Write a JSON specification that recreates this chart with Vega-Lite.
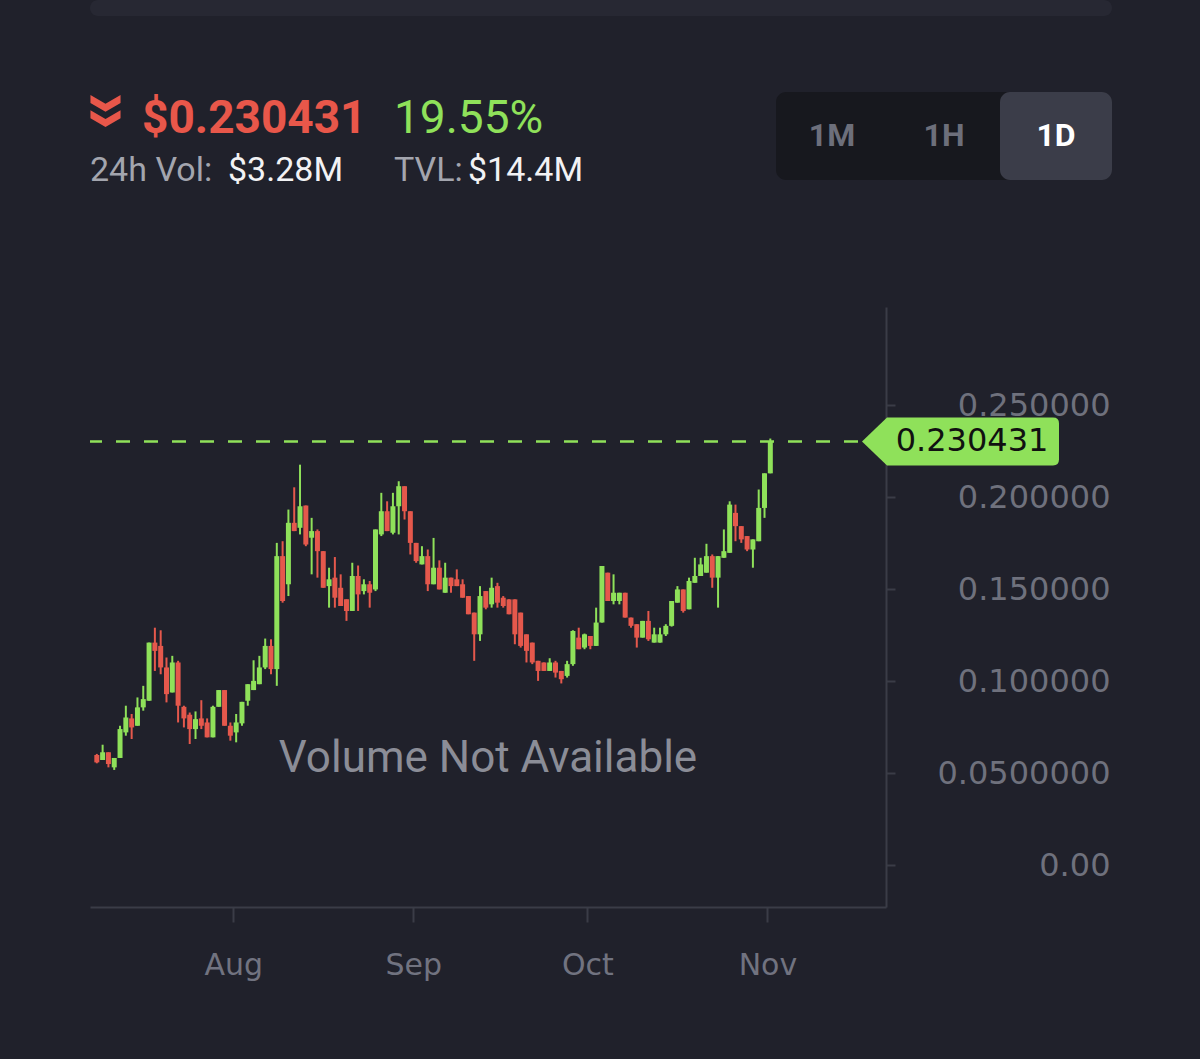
{
  "$schema": "https://vega.github.io/schema/vega-lite/v6.json",
  "background": "#20212b",
  "padding": {"left": 88, "top": 0, "right": 90, "bottom": 84},
  "config": {
    "view": {"stroke": null},
    "font": "DejaVu Sans",
    "title": {"orient": "bottom", "anchor": "start", "offset": 0, "fontSize": 46, "font": "Roboto", "subtitleFont": "Roboto", "subtitleFontSize": 34, "subtitlePadding": 11, "subtitleColor": "#a3a5ae"}
  },
  "datasets": {
    "candles": [
      {"date":"2024-07-08T12:00:00Z","open":0.0600,"close":0.0560,"high":0.0606,"low":0.0555},
      {"date":"2024-07-09T12:00:00Z","open":0.0573,"close":0.0615,"high":0.0656,"low":0.0573},
      {"date":"2024-07-10T12:00:00Z","open":0.0615,"close":0.0551,"high":0.0615,"low":0.0533},
      {"date":"2024-07-11T12:00:00Z","open":0.0533,"close":0.0584,"high":0.0584,"low":0.0519},
      {"date":"2024-07-12T12:00:00Z","open":0.0584,"close":0.0741,"high":0.0759,"low":0.0584},
      {"date":"2024-07-13T12:00:00Z","open":0.0723,"close":0.0804,"high":0.0868,"low":0.0705},
      {"date":"2024-07-14T12:00:00Z","open":0.0799,"close":0.0750,"high":0.0823,"low":0.0687},
      {"date":"2024-07-15T12:00:00Z","open":0.0759,"close":0.0859,"high":0.0913,"low":0.0759},
      {"date":"2024-07-16T12:00:00Z","open":0.0859,"close":0.0904,"high":0.0976,"low":0.0841},
      {"date":"2024-07-17T12:00:00Z","open":0.0895,"close":0.1211,"high":0.1211,"low":0.0895},
      {"date":"2024-07-18T12:00:00Z","open":0.1211,"close":0.1166,"high":0.1292,"low":0.1057},
      {"date":"2024-07-19T12:00:00Z","open":0.1193,"close":0.1076,"high":0.1278,"low":0.1039},
      {"date":"2024-07-20T12:00:00Z","open":0.1076,"close":0.0931,"high":0.1130,"low":0.0886},
      {"date":"2024-07-21T12:00:00Z","open":0.0940,"close":0.1103,"high":0.1139,"low":0.0940},
      {"date":"2024-07-22T12:00:00Z","open":0.1103,"close":0.0868,"high":0.1112,"low":0.0777},
      {"date":"2024-07-23T12:00:00Z","open":0.0862,"close":0.0799,"high":0.0868,"low":0.0750},
      {"date":"2024-07-24T12:00:00Z","open":0.0819,"close":0.0741,"high":0.0831,"low":0.0660},
      {"date":"2024-07-25T12:00:00Z","open":0.0741,"close":0.0795,"high":0.0837,"low":0.0687},
      {"date":"2024-07-26T12:00:00Z","open":0.0799,"close":0.0759,"high":0.0898,"low":0.0741},
      {"date":"2024-07-27T12:00:00Z","open":0.0777,"close":0.0696,"high":0.0799,"low":0.0696},
      {"date":"2024-07-28T12:00:00Z","open":0.0696,"close":0.0862,"high":0.0868,"low":0.0696},
      {"date":"2024-07-29T12:00:00Z","open":0.0862,"close":0.0953,"high":0.0953,"low":0.0862},
      {"date":"2024-07-30T12:00:00Z","open":0.0953,"close":0.0759,"high":0.0953,"low":0.0759},
      {"date":"2024-07-31T12:00:00Z","open":0.0759,"close":0.0705,"high":0.0777,"low":0.0678},
      {"date":"2024-08-01T12:00:00Z","open":0.0723,"close":0.0777,"high":0.0823,"low":0.0669},
      {"date":"2024-08-02T12:00:00Z","open":0.0772,"close":0.0889,"high":0.0889,"low":0.0759},
      {"date":"2024-08-03T12:00:00Z","open":0.0895,"close":0.0985,"high":0.0985,"low":0.0868},
      {"date":"2024-08-04T12:00:00Z","open":0.0953,"close":0.1003,"high":0.1115,"low":0.0953},
      {"date":"2024-08-05T12:00:00Z","open":0.0985,"close":0.1076,"high":0.1139,"low":0.0985},
      {"date":"2024-08-06T12:00:00Z","open":0.1076,"close":0.1193,"high":0.1233,"low":0.1067},
      {"date":"2024-08-07T12:00:00Z","open":0.1193,"close":0.1067,"high":0.1229,"low":0.1039},
      {"date":"2024-08-08T12:00:00Z","open":0.1067,"close":0.1681,"high":0.1753,"low":0.0976},
      {"date":"2024-08-09T12:00:00Z","open":0.1681,"close":0.1437,"high":0.1762,"low":0.1428},
      {"date":"2024-08-10T12:00:00Z","open":0.1528,"close":0.1862,"high":0.1934,"low":0.1464},
      {"date":"2024-08-11T12:00:00Z","open":0.1862,"close":0.1817,"high":0.2055,"low":0.1817},
      {"date":"2024-08-12T12:00:00Z","open":0.1835,"close":0.1952,"high":0.2178,"low":0.1799},
      {"date":"2024-08-13T12:00:00Z","open":0.1956,"close":0.1744,"high":0.1956,"low":0.1735},
      {"date":"2024-08-14T12:00:00Z","open":0.1781,"close":0.1817,"high":0.1889,"low":0.1582},
      {"date":"2024-08-15T12:00:00Z","open":0.1817,"close":0.1708,"high":0.1826,"low":0.1564},
      {"date":"2024-08-16T12:00:00Z","open":0.1708,"close":0.1509,"high":0.1708,"low":0.1509},
      {"date":"2024-08-17T12:00:00Z","open":0.1518,"close":0.1555,"high":0.1618,"low":0.1401},
      {"date":"2024-08-18T12:00:00Z","open":0.1564,"close":0.1455,"high":0.1676,"low":0.1401},
      {"date":"2024-08-19T12:00:00Z","open":0.1509,"close":0.1410,"high":0.1582,"low":0.1410},
      {"date":"2024-08-20T12:00:00Z","open":0.1446,"close":0.1383,"high":0.1446,"low":0.1329},
      {"date":"2024-08-21T12:00:00Z","open":0.1383,"close":0.1573,"high":0.1645,"low":0.1383},
      {"date":"2024-08-22T12:00:00Z","open":0.1573,"close":0.1473,"high":0.1630,"low":0.1383},
      {"date":"2024-08-23T12:00:00Z","open":0.1491,"close":0.1528,"high":0.1555,"low":0.1473},
      {"date":"2024-08-24T12:00:00Z","open":0.1528,"close":0.1482,"high":0.1546,"low":0.1401},
      {"date":"2024-08-25T12:00:00Z","open":0.1500,"close":0.1826,"high":0.1826,"low":0.1491},
      {"date":"2024-08-26T12:00:00Z","open":0.1799,"close":0.1925,"high":0.2025,"low":0.1790},
      {"date":"2024-08-27T12:00:00Z","open":0.1925,"close":0.1817,"high":0.1979,"low":0.1817},
      {"date":"2024-08-28T12:00:00Z","open":0.1808,"close":0.1952,"high":0.2025,"low":0.1799},
      {"date":"2024-08-29T12:00:00Z","open":0.1952,"close":0.2061,"high":0.2088,"low":0.1799},
      {"date":"2024-08-30T12:00:00Z","open":0.2061,"close":0.1925,"high":0.2061,"low":0.1880},
      {"date":"2024-08-31T12:00:00Z","open":0.1925,"close":0.1753,"high":0.1925,"low":0.1690},
      {"date":"2024-09-01T12:00:00Z","open":0.1753,"close":0.1654,"high":0.1753,"low":0.1645},
      {"date":"2024-09-02T12:00:00Z","open":0.1636,"close":0.1681,"high":0.1735,"low":0.1636},
      {"date":"2024-09-03T12:00:00Z","open":0.1681,"close":0.1528,"high":0.1717,"low":0.1491},
      {"date":"2024-09-04T12:00:00Z","open":0.1528,"close":0.1618,"high":0.1780,"low":0.1528},
      {"date":"2024-09-05T12:00:00Z","open":0.1618,"close":0.1500,"high":0.1658,"low":0.1500},
      {"date":"2024-09-06T12:00:00Z","open":0.1482,"close":0.1564,"high":0.1645,"low":0.1482},
      {"date":"2024-09-07T12:00:00Z","open":0.1564,"close":0.1518,"high":0.1564,"low":0.1482},
      {"date":"2024-09-08T12:00:00Z","open":0.1555,"close":0.1518,"high":0.1609,"low":0.1518},
      {"date":"2024-09-09T12:00:00Z","open":0.1528,"close":0.1455,"high":0.1555,"low":0.1455},
      {"date":"2024-09-10T12:00:00Z","open":0.1464,"close":0.1365,"high":0.1464,"low":0.1365},
      {"date":"2024-09-11T12:00:00Z","open":0.1374,"close":0.1256,"high":0.1374,"low":0.1112},
      {"date":"2024-09-12T12:00:00Z","open":0.1256,"close":0.1464,"high":0.1518,"low":0.1220},
      {"date":"2024-09-13T12:00:00Z","open":0.1491,"close":0.1401,"high":0.1491,"low":0.1392},
      {"date":"2024-09-14T12:00:00Z","open":0.1419,"close":0.1509,"high":0.1564,"low":0.1401},
      {"date":"2024-09-15T12:00:00Z","open":0.1518,"close":0.1428,"high":0.1536,"low":0.1401},
      {"date":"2024-09-16T12:00:00Z","open":0.1455,"close":0.1410,"high":0.1464,"low":0.1401},
      {"date":"2024-09-17T12:00:00Z","open":0.1446,"close":0.1365,"high":0.1446,"low":0.1365},
      {"date":"2024-09-18T12:00:00Z","open":0.1446,"close":0.1256,"high":0.1446,"low":0.1202},
      {"date":"2024-09-19T12:00:00Z","open":0.1374,"close":0.1193,"high":0.1374,"low":0.1184},
      {"date":"2024-09-20T12:00:00Z","open":0.1256,"close":0.1166,"high":0.1256,"low":0.1103},
      {"date":"2024-09-21T12:00:00Z","open":0.1211,"close":0.1103,"high":0.1211,"low":0.1094},
      {"date":"2024-09-22T12:00:00Z","open":0.1112,"close":0.1057,"high":0.1112,"low":0.1003},
      {"date":"2024-09-23T12:00:00Z","open":0.1103,"close":0.1057,"high":0.1103,"low":0.1057},
      {"date":"2024-09-24T12:00:00Z","open":0.1057,"close":0.1103,"high":0.1126,"low":0.1057},
      {"date":"2024-09-25T12:00:00Z","open":0.1103,"close":0.1048,"high":0.1112,"low":0.1021},
      {"date":"2024-09-26T12:00:00Z","open":0.1057,"close":0.1012,"high":0.1057,"low":0.0989},
      {"date":"2024-09-27T12:00:00Z","open":0.1030,"close":0.1094,"high":0.1112,"low":0.1021},
      {"date":"2024-09-28T12:00:00Z","open":0.1094,"close":0.1274,"high":0.1278,"low":0.1085},
      {"date":"2024-09-29T12:00:00Z","open":0.1238,"close":0.1175,"high":0.1292,"low":0.1175},
      {"date":"2024-09-30T12:00:00Z","open":0.1184,"close":0.1256,"high":0.1260,"low":0.1175},
      {"date":"2024-10-01T12:00:00Z","open":0.1247,"close":0.1193,"high":0.1247,"low":0.1175},
      {"date":"2024-10-02T12:00:00Z","open":0.1193,"close":0.1320,"high":0.1401,"low":0.1193},
      {"date":"2024-10-03T12:00:00Z","open":0.1320,"close":0.1627,"high":0.1627,"low":0.1320},
      {"date":"2024-10-04T12:00:00Z","open":0.1591,"close":0.1437,"high":0.1591,"low":0.1437},
      {"date":"2024-10-05T12:00:00Z","open":0.1437,"close":0.1482,"high":0.1582,"low":0.1419},
      {"date":"2024-10-06T12:00:00Z","open":0.1437,"close":0.1482,"high":0.1482,"low":0.1419},
      {"date":"2024-10-07T12:00:00Z","open":0.1482,"close":0.1347,"high":0.1482,"low":0.1347},
      {"date":"2024-10-08T12:00:00Z","open":0.1347,"close":0.1302,"high":0.1347,"low":0.1292},
      {"date":"2024-10-09T12:00:00Z","open":0.1311,"close":0.1238,"high":0.1311,"low":0.1184},
      {"date":"2024-10-10T12:00:00Z","open":0.1238,"close":0.1329,"high":0.1329,"low":0.1238},
      {"date":"2024-10-11T12:00:00Z","open":0.1329,"close":0.1229,"high":0.1383,"low":0.1220},
      {"date":"2024-10-12T12:00:00Z","open":0.1211,"close":0.1256,"high":0.1292,"low":0.1211},
      {"date":"2024-10-13T12:00:00Z","open":0.1211,"close":0.1256,"high":0.1292,"low":0.1211},
      {"date":"2024-10-14T12:00:00Z","open":0.1256,"close":0.1302,"high":0.1311,"low":0.1247},
      {"date":"2024-10-15T12:00:00Z","open":0.1302,"close":0.1437,"high":0.1437,"low":0.1298},
      {"date":"2024-10-16T12:00:00Z","open":0.1428,"close":0.1500,"high":0.1518,"low":0.1428},
      {"date":"2024-10-17T12:00:00Z","open":0.1500,"close":0.1383,"high":0.1500,"low":0.1374},
      {"date":"2024-10-18T12:00:00Z","open":0.1392,"close":0.1546,"high":0.1564,"low":0.1392},
      {"date":"2024-10-19T12:00:00Z","open":0.1536,"close":0.1573,"high":0.1672,"low":0.1536},
      {"date":"2024-10-20T12:00:00Z","open":0.1573,"close":0.1636,"high":0.1672,"low":0.1573},
      {"date":"2024-10-21T12:00:00Z","open":0.1591,"close":0.1681,"high":0.1748,"low":0.1591},
      {"date":"2024-10-22T12:00:00Z","open":0.1681,"close":0.1564,"high":0.1690,"low":0.1509},
      {"date":"2024-10-23T12:00:00Z","open":0.1564,"close":0.1681,"high":0.1681,"low":0.1401},
      {"date":"2024-10-24T12:00:00Z","open":0.1672,"close":0.1708,"high":0.1826,"low":0.1672},
      {"date":"2024-10-25T12:00:00Z","open":0.1699,"close":0.1961,"high":0.1979,"low":0.1699},
      {"date":"2024-10-26T12:00:00Z","open":0.1916,"close":0.1844,"high":0.1961,"low":0.1762},
      {"date":"2024-10-27T12:00:00Z","open":0.1844,"close":0.1772,"high":0.1844,"low":0.1753},
      {"date":"2024-10-28T12:00:00Z","open":0.1790,"close":0.1717,"high":0.1790,"low":0.1708},
      {"date":"2024-10-29T12:00:00Z","open":0.1717,"close":0.1772,"high":0.1772,"low":0.1618},
      {"date":"2024-10-30T12:00:00Z","open":0.1762,"close":0.1943,"high":0.2043,"low":0.1762},
      {"date":"2024-10-31T12:00:00Z","open":0.1943,"close":0.2131,"high":0.2131,"low":0.1889},
      {"date":"2024-11-01T12:00:00Z","open":0.2131,"close":0.230431,"high":0.2320,"low":0.2131}
    ],
    "last": [{"price": 0.230431}],
    "note": [{"text": "Volume Not Available"}],
    "trend": [{"direction": "down"}],
    "intervals": [
      {"interval": "1M", "selected": false},
      {"interval": "1H", "selected": false},
      {"interval": "1D", "selected": true}
    ]
  },
  "spacing": 76,
  "vconcat": [
    {
      "width": 1022,
      "height": 16,
      "data": {"values": []},
      "mark": "text",
      "view": {"fill": "#272833", "cornerRadius": 12, "stroke": null}
    },
    {
      "spacing": 119,
      "vconcat": [
        {
          "spacing": 0,
          "bounds": "flush",
          "hconcat": [
            {
              "width": 1,
              "height": 1,
              "data": {"values": []},
              "mark": "text",
              "title": {"text": " ", "subtitle": "24h Vol:"}
            },
            {
              "width": 29,
              "height": 38,
              "data": {"name": "trend"},
              "mark": {"type": "point", "filled": true, "opacity": 1, "size": 1024, "strokeWidth": 0, "color": "#e8574a",
                "shape": "M -0.94 -1 L 0 -0.45 L 0.94 -1 L 0.94 -0.5 L 0 0.05 L -0.94 -0.5 Z M -0.94 -0.05 L 0 0.5 L 0.94 -0.05 L 0.94 0.45 L 0 1 L -0.94 0.45 Z"}
            },
            {
              "width": 22,
              "height": 1,
              "data": {"values": []},
              "mark": "text"
            },
            {
              "width": 86,
              "height": 1,
              "data": {"values": []},
              "mark": "text",
              "title": {"text": "$0.230431", "fontWeight": "bold", "color": "#e8574a"}
            },
            {
              "width": 166,
              "height": 1,
              "data": {"values": []},
              "mark": "text",
              "title": {"text": " ", "subtitle": "$3.28M", "subtitleColor": "#f2f2f4"}
            },
            {
              "width": 74,
              "height": 1,
              "data": {"values": []},
              "mark": "text",
              "title": {"text": "19.55%", "fontWeight": "normal", "color": "#8fe15a", "subtitle": "TVL:"}
            },
            {
              "width": 308,
              "height": 1,
              "data": {"values": []},
              "mark": "text",
              "title": {"text": " ", "subtitle": "$14.4M", "subtitleColor": "#f2f2f4"}
            },
            {
              "width": 336,
              "height": 88,
              "data": {"name": "intervals"},
              "view": {"fill": "#17181e", "cornerRadius": 10, "stroke": null},
              "encoding": {
                "x": {"field": "interval", "type": "nominal", "sort": null, "axis": null, "scale": {"paddingInner": 0, "paddingOuter": 0}}
              },
              "layer": [
                {
                  "mark": {"type": "bar", "cornerRadius": 10},
                  "encoding": {
                    "fill": {"condition": {"test": "datum.selected", "value": "#3b3d49"}, "value": "transparent"}
                  }
                },
                {
                  "mark": {"type": "text", "fontSize": 32, "fontWeight": "bold", "font": "Roboto"},
                  "encoding": {
                    "text": {"field": "interval"},
                    "color": {"condition": {"test": "datum.selected", "value": "#ffffff"}, "value": "#6d6f7b"}
                  }
                }
              ]
            }
          ]
        },
        {
          "width": 796,
          "height": 600,
          "layer": [
            {
              "data": {"name": "candles"},
              "mark": {"type": "rule", "strokeWidth": 2},
              "encoding": {
                "x": {
                  "field": "date", "type": "temporal", "title": null,
                  "scale": {"type": "utc", "domain": [{"year": 2024, "month": 7, "date": 8, "hours": 4, "minutes": 30, "utc": true}, {"year": 2024, "month": 11, "date": 20, "hours": 13, "minutes": 30, "utc": true}]},
                  "axis": {
                    "orient": "bottom",
                    "values": [{"year": 2024, "month": 8, "date": 1, "utc": true}, {"year": 2024, "month": 9, "date": 1, "utc": true}, {"year": 2024, "month": 10, "date": 1, "utc": true}, {"year": 2024, "month": 11, "date": 1, "utc": true}],
                    "labelExpr": "utcFormat(datum.value, '%b')",
                    "grid": false,
                    "domainColor": "#3a3c47",
                    "domainWidth": 2,
                    "tickColor": "#3a3c47",
                    "tickWidth": 2,
                    "tickSize": 15,
                    "labelFont": "DejaVu Sans",
                    "labelFontSize": 30,
                    "labelColor": "#717380",
                    "labelPadding": 28
                  }
                },
                "y": {
                  "field": "low", "type": "quantitative", "title": null,
                  "scale": {"domain": [-0.0226, 0.3035], "nice": false, "zero": false},
                  "axis": {
                    "orient": "right",
                    "values": [0, 0.05, 0.1, 0.15, 0.2, 0.25],
                    "labelExpr": "abs(datum.value) < 1e-9 ? '0.00' : (abs(datum.value - 0.05) < 1e-9 ? '0.0500000' : format(datum.value, '.6f'))",
                    "grid": false,
                    "domainColor": "#3a3c47",
                    "domainWidth": 2,
                    "tickColor": "#3a3c47",
                    "tickWidth": 2,
                    "tickSize": 9,
                    "labelFont": "DejaVu Sans",
                    "labelFontSize": 32,
                    "labelColor": "#6f717d",
                    "labelAlign": "right",
                    "labelBaseline": "middle",
                    "labelPadding": 215
                  }
                },
                "y2": {"field": "high"},
                "color": {"condition": {"test": "datum.close >= datum.open", "value": "#8fe15a"}, "value": "#e5584c"}
              }
            },
            {
              "data": {"name": "candles"},
              "mark": {"type": "bar", "width": 5},
              "encoding": {
                "x": {"field": "date", "type": "temporal", "title": null},
                "y": {"field": "open", "type": "quantitative", "title": null},
                "y2": {"field": "close"},
                "color": {"condition": {"test": "datum.close >= datum.open", "value": "#8fe15a"}, "value": "#e5584c"}
              }
            },
            {
              "data": {"name": "last"},
              "mark": {"type": "rule", "strokeDash": [14, 14], "strokeWidth": 2.5, "color": "#8fe15a"},
              "encoding": {
                "y": {"field": "price", "type": "quantitative", "title": null}
              }
            },
            {
              "data": {"name": "note"},
              "mark": {"type": "text", "font": "Roboto", "fontSize": 44, "color": "#8b8d97", "align": "center", "baseline": "middle"},
              "encoding": {
                "text": {"field": "text"},
                "x": {"datum": {"year": 2024, "month": 9, "date": 13, "hours": 21, "utc": true}, "type": "temporal", "title": null},
                "y": {"datum": 0.058, "type": "quantitative", "title": null}
              }
            },
            {
              "data": {"name": "last"},
              "mark": {"type": "point", "filled": true, "opacity": 1, "size": 38809, "strokeWidth": 0, "xOffset": 74.5, "color": "#8fe15a",
                "shape": "M -1 0 L -0.746 -0.2437 L 0.939 -0.2437 Q 1 -0.2437 1 -0.183 L 1 0.183 Q 1 0.2437 0.939 0.2437 L -0.746 0.2437 Z"},
              "encoding": {
                "x": {"value": "width"},
                "y": {"field": "price", "type": "quantitative", "title": null}
              }
            },
            {
              "data": {"name": "last"},
              "mark": {"type": "text", "font": "DejaVu Sans", "fontSize": 32, "color": "#111111", "align": "center", "baseline": "middle", "dx": 86},
              "encoding": {
                "text": {"field": "price", "type": "quantitative", "format": ".6f"},
                "x": {"value": "width"},
                "y": {"field": "price", "type": "quantitative", "title": null}
              }
            }
          ]
        }
      ]
    }
  ]
}
